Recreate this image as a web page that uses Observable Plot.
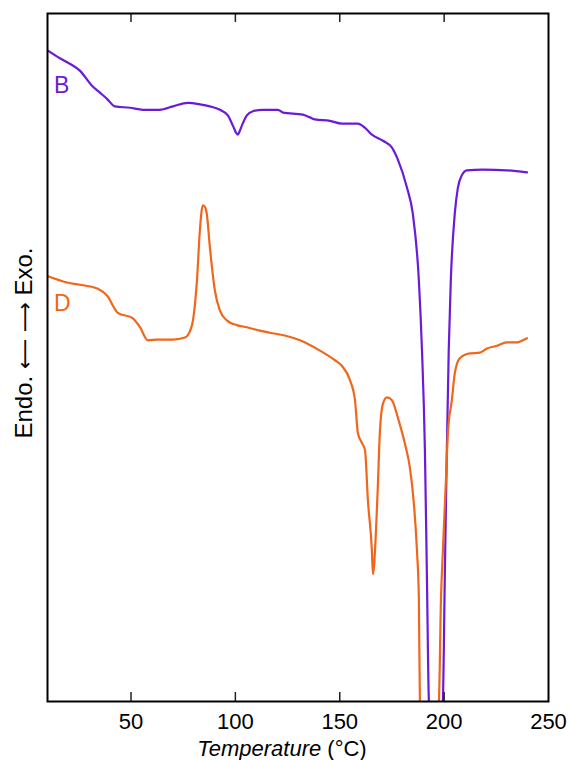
<!DOCTYPE html>
<html>
<head>
<meta charset="utf-8">
<script src="https://cdn.jsdelivr.net/npm/d3@7"></script>
<script src="https://cdn.jsdelivr.net/npm/@observablehq/plot@0.6"></script>
<style>
  body { margin: 0; background: #fff; }
  #chart svg { display: block; }
</style>
</head>
<body>
<div id="chart"></div>
<script>
// Sample B (purple) — temperature (°C) and heat flow (arbitrary units, exo up)
const tempB = [10.2, 15.9, 20.7, 25.5, 31.3, 35.1, 38.5, 42.3, 49.5, 55.7, 63.8, 70.1, 77.3, 83.0, 87.8, 92.6, 96.4, 98.8, 100.3, 101.2, 102.2, 103.1, 105.5, 108.4, 113.2, 120.4, 122.8, 132.3, 135.7, 138.1, 145.3, 151.0, 158.7, 162.0, 165.4, 170.7, 175.0, 177.8, 182.2, 185.0, 187.9, 189.4, 190.8, 191.8, 192.7, 196.0, 199.4, 200.3, 201.3, 202.2, 203.2, 205.1, 206.6, 208.5, 210.9, 218.5, 230.0, 239.7];
const heatB = [94.6, 93.5, 92.7, 91.7, 89.5, 88.5, 87.6, 86.5, 86.3, 86.0, 86.0, 86.5, 87.0, 86.8, 86.5, 86.0, 85.2, 83.7, 82.7, 82.4, 83.0, 83.7, 85.2, 85.8, 86.0, 86.0, 85.6, 85.3, 84.9, 84.6, 84.4, 84.0, 84.0, 83.4, 82.4, 81.5, 80.5, 78.8, 74.7, 70.9, 61.2, 51.0, 36.5, 17.2, 0.1, -10, 0.1, 17.6, 36.5, 51.0, 61.2, 70.9, 74.7, 76.5, 77.2, 77.3, 77.2, 76.9];

// Sample D (orange)
const tempD = [10.2, 19.3, 27.0, 34.1, 38.5, 43.7, 50.9, 54.3, 58.1, 62.4, 70.1, 75.8, 78.2, 79.7, 81.6, 83.0, 84.4, 85.4, 86.3, 87.8, 90.2, 92.6, 95.9, 100.7, 105.5, 111.7, 116.5, 123.7, 130.9, 140.5, 147.7, 151.0, 154.9, 157.3, 158.7, 160.6, 162.1, 163.5, 165.4, 165.9, 167.3, 168.3, 169.2, 170.7, 172.6, 175.0, 177.8, 181.2, 183.6, 185.5, 187.0, 187.9, 188.4, 193.0, 197.5, 198.5, 199.4, 200.8, 201.8, 203.7, 205.1, 207.5, 212.3, 217.1, 220.5, 225.3, 230.0, 235.3, 237.7, 239.7];
const heatD = [61.8, 60.9, 60.5, 60.0, 59.0, 56.5, 55.7, 54.4, 52.5, 52.6, 52.6, 52.9, 53.8, 55.4, 61.2, 68.5, 72.1, 71.9, 70.9, 66.0, 59.7, 56.8, 55.4, 54.7, 54.4, 53.9, 53.6, 53.2, 52.5, 51.0, 49.6, 48.8, 46.7, 43.8, 39.0, 37.6, 36.5, 29.2, 21.9, 18.5, 24.4, 31.7, 39.0, 43.3, 44.2, 43.8, 41.3, 37.5, 34.0, 28.8, 21.9, 15.0, 0.1, -10, 0.1, 15.0, 21.9, 31.7, 39.0, 43.8, 47.7, 49.9, 50.6, 50.7, 51.3, 51.7, 52.2, 52.2, 52.5, 52.8];

const xTicks = [50, 100, 150, 200, 250];
const innerTicks = [50, 100, 150, 200];
const seriesNames = ["B", "D"];
const colors = ["#6a1bd8", "#f0661a"];

const B = tempB.map((t, i) => ({T: t, v: heatB[i]}));
const D = tempD.map((t, i) => ({T: t, v: heatD[i]}));

const font = "'Liberation Sans', Helvetica, Arial, sans-serif";
const H = 760, mTop = 13, mBottom = 59, tickLen = 9;
const frameH = H - mTop - mBottom;

const chart = Plot.plot({
  width: 569,
  height: H,
  marginLeft: 47,
  marginRight: 21,
  marginTop: mTop,
  marginBottom: mBottom,
  style: {fontFamily: font, background: "#fff", color: "#000"},
  x: {domain: [10, 250]},
  y: {domain: [0, 100]},
  marks: [
    Plot.line(B, {x: "T", y: "v", stroke: colors[0], strokeWidth: 2.2, curve: "monotone-x", clip: true}),
    Plot.line(D, {x: "T", y: "v", stroke: colors[1], strokeWidth: 2.2, curve: "monotone-x", clip: true}),
    Plot.text([B[0]], {x: "T", y: "v", text: () => seriesNames[0], fill: colors[0], fontSize: 23, textAnchor: "start", dx: 6, dy: 35}),
    Plot.text([D[0]], {x: "T", y: "v", text: () => seriesNames[1], fill: colors[1], fontSize: 23, textAnchor: "start", dx: 6, dy: 27}),
    // inward tick marks (bottom and top)
    Plot.ruleX(innerTicks, {x: d => d, insetTop: frameH - tickLen, stroke: "#222", strokeWidth: 1.5}),
    Plot.ruleX(innerTicks, {x: d => d, insetBottom: frameH - tickLen, stroke: "#222", strokeWidth: 1.5}),
    // tick labels
    Plot.axisX({anchor: "bottom", ticks: xTicks, tickSize: 0, tickPadding: 12, fontSize: 22, label: null}),
    Plot.axisY({ticks: [], label: null}),
    Plot.frame({stroke: "#000", strokeWidth: 2})
  ]
});

document.getElementById("chart").appendChild(chart);

const svg = d3.select(chart);
const xl = svg.append("text")
  .attr("x", 282).attr("y", 756)
  .attr("text-anchor", "middle")
  .attr("font-size", 22)
  .attr("font-family", font)
  .attr("fill", "#000");
xl.append("tspan").attr("font-style", "italic").text("Temperature");
xl.append("tspan").text(" (°C)");

const yl = svg.append("text")
  .attr("transform", "translate(32,343) rotate(-90)")
  .attr("text-anchor", "middle")
  .attr("font-size", 24)
  .attr("font-family", font)
  .attr("fill", "#000");
yl.append("tspan").text("Endo. ");
yl.append("tspan").attr("font-family", "'DejaVu Sans', sans-serif").attr("font-size", 21).text("⟵ ⟶");
yl.append("tspan").text(" Exo.");
</script>
</body>
</html>
